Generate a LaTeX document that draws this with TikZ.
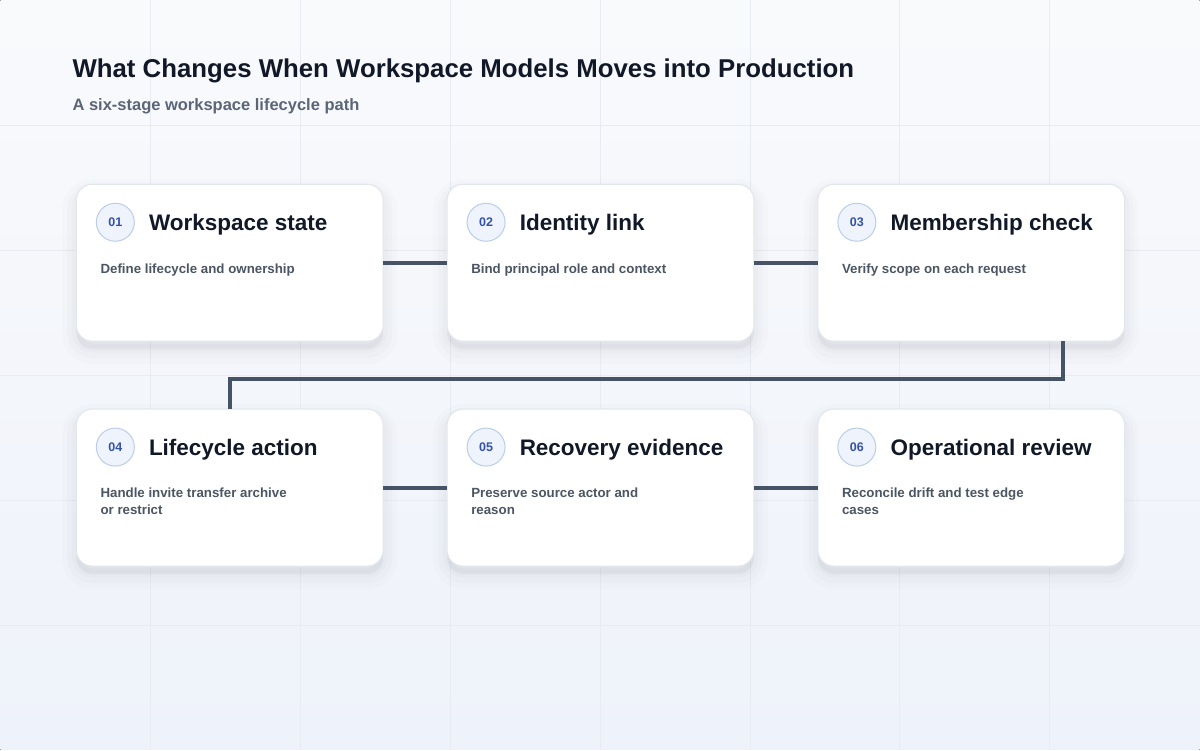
\documentclass[tikz,border=0pt]{standalone}
\usepackage{fontspec}
\setmainfont{Liberation Sans}
\usetikzlibrary{positioning,shadows}

\definecolor{bgtop}{HTML}{F9FAFC}
\definecolor{bgbot}{HTML}{EEF2FA}
\definecolor{gridc}{HTML}{E8EBF2}
\definecolor{ink}{HTML}{111827}
\definecolor{muted}{HTML}{5B6577}
\definecolor{body}{HTML}{4B5563}
\definecolor{edge}{HTML}{E2E7EF}
\definecolor{linkc}{HTML}{465366}
\definecolor{badgefill}{HTML}{EEF3FC}
\definecolor{badgeline}{HTML}{BCCDEB}
\definecolor{badgetext}{HTML}{3553A4}

\begin{document}
\begin{tikzpicture}[x=1pt,y=-1pt,
    card/.style={draw=edge, line width=1pt, fill=white, rounded corners=16pt,
      minimum width=307pt, minimum height=157pt, inner sep=0pt, outer sep=0pt,
      drop shadow={shadow xshift=0pt, shadow yshift=-9pt, opacity=.012, fill=black, draw=black, line width=28pt},
      drop shadow={shadow xshift=0pt, shadow yshift=-8pt, opacity=.014, fill=black, draw=black, line width=18pt},
      drop shadow={shadow xshift=0pt, shadow yshift=-7pt, opacity=.016, fill=black, draw=black, line width=9pt}},
    badge/.style={circle, draw=badgeline, fill=badgefill, line width=1pt, minimum size=38pt, inner sep=0pt,
      font=\bfseries\fontsize{12.5}{14}\selectfont, text=badgetext},
    heading/.style={anchor=base west, inner sep=0pt, font=\bfseries\fontsize{22.5}{26}\selectfont, text=ink},
    note/.style={anchor=north west, inner sep=0pt, align=left,
      font=\bfseries\fontsize{13.3}{17}\selectfont, text=body},
    link/.style={draw=linkc, line width=4pt}]

  % background and faint grid
  \fill[top color=bgtop, bottom color=bgbot] (0,0) rectangle (1200,750);
  \foreach \x in {150,300,...,1050} \draw[gridc, line width=.8pt] (\x,0) -- (\x,750);
  \foreach \y in {125,250,...,625} \draw[gridc, line width=.8pt] (0,\y) -- (1200,\y);
  \useasboundingbox (0,0) rectangle (1200,750);

  \node[anchor=base west, inner sep=0pt, font=\bfseries\fontsize{25.8}{30}\selectfont, text=ink] (title) at (72,77)
    {What Changes When Workspace Models Moves into Production};
  \node[anchor=base west, inner sep=0pt, font=\bfseries\fontsize{16.5}{20}\selectfont, text=muted] (subtitle) at (72,110)
    {A six-stage workspace lifecycle path};

  % cards
  \node[card, anchor=north west] (c1) at (76,184) {};
  \node[card, right=64pt of c1] (c2) {};
  \node[card, right=64pt of c2] (c3) {};
  \node[card, below=68pt of c1] (c4) {};
  \node[card, right=64pt of c4] (c5) {};
  \node[card, right=64pt of c5] (c6) {};

  \node[badge] (b1) at ([shift={(39pt,-38pt)}]c1.north west) {01};
  \node[badge] (b2) at ([shift={(39pt,-38pt)}]c2.north west) {02};
  \node[badge] (b3) at ([shift={(39pt,-38pt)}]c3.north west) {03};
  \node[badge] (b4) at ([shift={(39pt,-38pt)}]c4.north west) {04};
  \node[badge] (b5) at ([shift={(39pt,-38pt)}]c5.north west) {05};
  \node[badge] (b6) at ([shift={(39pt,-38pt)}]c6.north west) {06};

  \node[heading] (t1) at ([shift={(14pt,-8pt)}]b1.east) {Workspace state};
  \node[heading] (t2) at ([shift={(14pt,-8pt)}]b2.east) {Identity link};
  \node[heading] (t3) at ([shift={(14pt,-8pt)}]b3.east) {Membership check};
  \node[heading] (t4) at ([shift={(14pt,-8pt)}]b4.east) {Lifecycle action};
  \node[heading] (t5) at ([shift={(14pt,-8pt)}]b5.east) {Recovery evidence};
  \node[heading] (t6) at ([shift={(14pt,-8pt)}]b6.east) {Operational review};

  \node[note] (d1) at ([shift={(24pt,-79pt)}]c1.north west) {Define lifecycle and ownership};
  \node[note] (d2) at ([shift={(24pt,-79pt)}]c2.north west) {Bind principal role and context};
  \node[note] (d3) at ([shift={(24pt,-79pt)}]c3.north west) {Verify scope on each request};
  \node[note] (d4) at ([shift={(24pt,-79pt)}]c4.north west) {Handle invite transfer archive\\or restrict};
  \node[note] (d5) at ([shift={(24pt,-79pt)}]c5.north west) {Preserve source actor and\\reason};
  \node[note] (d6) at ([shift={(24pt,-79pt)}]c6.north west) {Reconcile drift and test edge\\cases};

  % connectors
  \draw[link] (c1) -- (c2);
  \draw[link] (c2) -- (c3);
  \draw[link] ([xshift=-62pt]c3.south east) -- ++(0,38) -| (c4.north);
  \draw[link] (c4) -- (c5);
  \draw[link] (c5) -- (c6);
\end{tikzpicture}
\end{document}
